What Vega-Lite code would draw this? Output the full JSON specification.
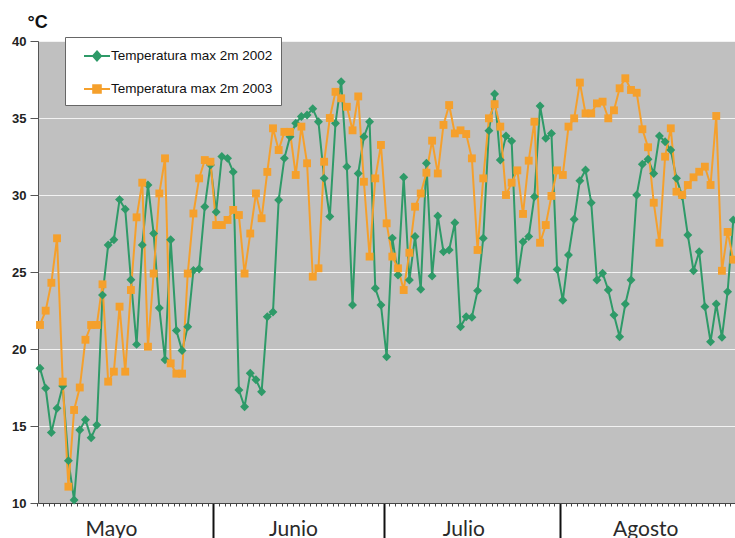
{
  "$schema": "https://vega.github.io/schema/vega-lite/v6.json",
  "width": 697,
  "height": 462,
  "autosize": {"type": "none"},
  "padding": {"left": 38, "top": 41, "right": 0, "bottom": 35},
  "background": "#ffffff",
  "config": {
    "view": {"fill": "#C0C0C0", "stroke": null},
    "font": "Liberation Sans"
  },
  "data": {
    "values": [
      {"dia": 1, "2002": 18.75, "2003": 21.56},
      {"dia": 2, "2002": 17.45, "2003": 22.49},
      {"dia": 3, "2002": 14.57, "2003": 24.3},
      {"dia": 4, "2002": 16.15, "2003": 27.19},
      {"dia": 5, "2002": 17.6, "2003": 17.88},
      {"dia": 6, "2002": 12.75, "2003": 11.06},
      {"dia": 7, "2002": 10.2, "2003": 16.04},
      {"dia": 8, "2002": 14.74, "2003": 17.5},
      {"dia": 9, "2002": 15.4, "2003": 20.6},
      {"dia": 10, "2002": 14.24, "2003": 21.56},
      {"dia": 11, "2002": 15.06, "2003": 21.56},
      {"dia": 12, "2002": 23.5, "2003": 24.2},
      {"dia": 13, "2002": 26.75, "2003": 17.88},
      {"dia": 14, "2002": 27.1, "2003": 18.53},
      {"dia": 15, "2002": 29.7, "2003": 22.75},
      {"dia": 16, "2002": 29.07, "2003": 18.53},
      {"dia": 17, "2002": 24.5, "2003": 23.83},
      {"dia": 18, "2002": 20.3, "2003": 28.55},
      {"dia": 19, "2002": 26.75, "2003": 30.8},
      {"dia": 20, "2002": 30.65, "2003": 20.15},
      {"dia": 21, "2002": 27.5, "2003": 24.9},
      {"dia": 22, "2002": 22.66, "2003": 30.1},
      {"dia": 23, "2002": 19.3, "2003": 32.38},
      {"dia": 24, "2002": 27.1, "2003": 19.07},
      {"dia": 25, "2002": 21.2, "2003": 18.4},
      {"dia": 26, "2002": 19.9, "2003": 18.4},
      {"dia": 27, "2002": 21.45, "2003": 24.9},
      {"dia": 28, "2002": 25.1, "2003": 28.8},
      {"dia": 29, "2002": 25.2, "2003": 31.08},
      {"dia": 30, "2002": 29.24, "2003": 32.27},
      {"dia": 31, "2002": 31.95, "2003": 32.16},
      {"dia": 32, "2002": 28.9, "2003": 28.05},
      {"dia": 33, "2002": 32.5, "2003": 28.05},
      {"dia": 34, "2002": 32.38, "2003": 28.38},
      {"dia": 35, "2002": 31.5, "2003": 29.03},
      {"dia": 36, "2002": 17.34, "2003": 28.7},
      {"dia": 37, "2002": 16.25, "2003": 24.9},
      {"dia": 38, "2002": 18.42, "2003": 27.5},
      {"dia": 39, "2002": 18.0, "2003": 30.1},
      {"dia": 40, "2002": 17.23, "2003": 28.49},
      {"dia": 41, "2002": 22.1, "2003": 31.5},
      {"dia": 42, "2002": 22.4, "2003": 34.33},
      {"dia": 43, "2002": 29.67, "2003": 32.92},
      {"dia": 44, "2002": 32.38, "2003": 34.1},
      {"dia": 45, "2002": 33.79, "2003": 34.1},
      {"dia": 46, "2002": 34.66, "2003": 31.3},
      {"dia": 47, "2002": 35.1, "2003": 34.44},
      {"dia": 48, "2002": 35.2, "2003": 32.06},
      {"dia": 49, "2002": 35.6, "2003": 24.7},
      {"dia": 50, "2002": 34.76, "2003": 25.24},
      {"dia": 51, "2002": 31.08, "2003": 32.16},
      {"dia": 52, "2002": 28.6, "2003": 35.0},
      {"dia": 53, "2002": 34.66, "2003": 36.7},
      {"dia": 54, "2002": 37.36, "2003": 36.28},
      {"dia": 55, "2002": 31.84, "2003": 35.73},
      {"dia": 56, "2002": 22.86, "2003": 34.2},
      {"dia": 57, "2002": 31.4, "2003": 36.4},
      {"dia": 58, "2002": 33.79, "2003": 30.86},
      {"dia": 59, "2002": 34.76, "2003": 26.0},
      {"dia": 60, "2002": 23.94, "2003": 31.08},
      {"dia": 61, "2002": 22.86, "2003": 33.25},
      {"dia": 62, "2002": 19.5, "2003": 28.16},
      {"dia": 63, "2002": 27.2, "2003": 26.0},
      {"dia": 64, "2002": 24.8, "2003": 25.24},
      {"dia": 65, "2002": 31.15, "2003": 23.83},
      {"dia": 66, "2002": 24.48, "2003": 26.25},
      {"dia": 67, "2002": 27.3, "2003": 29.24},
      {"dia": 68, "2002": 23.88, "2003": 30.1},
      {"dia": 69, "2002": 32.06, "2003": 31.45},
      {"dia": 70, "2002": 24.74, "2003": 33.53},
      {"dia": 71, "2002": 28.64, "2003": 31.4},
      {"dia": 72, "2002": 26.32, "2003": 34.55},
      {"dia": 73, "2002": 26.43, "2003": 35.84},
      {"dia": 74, "2002": 28.2, "2003": 34.0},
      {"dia": 75, "2002": 21.45, "2003": 34.2},
      {"dia": 76, "2002": 22.1, "2003": 33.96},
      {"dia": 77, "2002": 22.06, "2003": 32.38},
      {"dia": 78, "2002": 23.79, "2003": 26.43},
      {"dia": 79, "2002": 27.19, "2003": 31.08},
      {"dia": 80, "2002": 34.18, "2003": 34.98},
      {"dia": 81, "2002": 36.56, "2003": 35.9},
      {"dia": 82, "2002": 32.27, "2003": 34.44},
      {"dia": 83, "2002": 33.83, "2003": 30.0},
      {"dia": 84, "2002": 33.5, "2003": 30.8},
      {"dia": 85, "2002": 24.48, "2003": 31.6},
      {"dia": 86, "2002": 26.97, "2003": 28.77},
      {"dia": 87, "2002": 27.3, "2003": 32.23},
      {"dia": 88, "2002": 29.89, "2003": 34.76},
      {"dia": 89, "2002": 35.78, "2003": 26.9},
      {"dia": 90, "2002": 33.68, "2003": 28.05},
      {"dia": 91, "2002": 34.0, "2003": 29.94},
      {"dia": 92, "2002": 25.17, "2003": 31.6},
      {"dia": 93, "2002": 23.16, "2003": 31.3},
      {"dia": 94, "2002": 26.1, "2003": 34.44},
      {"dia": 95, "2002": 28.42, "2003": 34.98},
      {"dia": 96, "2002": 30.93, "2003": 37.3},
      {"dia": 97, "2002": 31.62, "2003": 35.3},
      {"dia": 98, "2002": 29.5, "2003": 35.3},
      {"dia": 99, "2002": 24.48, "2003": 35.95},
      {"dia": 100, "2002": 24.92, "2003": 36.06},
      {"dia": 101, "2002": 23.83, "2003": 34.98},
      {"dia": 102, "2002": 22.2, "2003": 35.5},
      {"dia": 103, "2002": 20.8, "2003": 36.93},
      {"dia": 104, "2002": 22.92, "2003": 37.58},
      {"dia": 105, "2002": 24.48, "2003": 36.82},
      {"dia": 106, "2002": 30.0, "2003": 36.64},
      {"dia": 107, "2002": 32.0, "2003": 34.27},
      {"dia": 108, "2002": 32.32, "2003": 33.1},
      {"dia": 109, "2002": 31.4, "2003": 29.5},
      {"dia": 110, "2002": 33.83, "2003": 26.9},
      {"dia": 111, "2002": 33.46, "2003": 32.49},
      {"dia": 112, "2002": 32.92, "2003": 34.33},
      {"dia": 113, "2002": 31.08, "2003": 30.21},
      {"dia": 114, "2002": 29.94, "2003": 30.0},
      {"dia": 115, "2002": 27.4, "2003": 30.65},
      {"dia": 116, "2002": 25.08, "2003": 31.15},
      {"dia": 117, "2002": 26.32, "2003": 31.51},
      {"dia": 118, "2002": 22.75, "2003": 31.84},
      {"dia": 119, "2002": 20.47, "2003": 30.65},
      {"dia": 120, "2002": 22.92, "2003": 35.13},
      {"dia": 121, "2002": 20.76, "2003": 25.08},
      {"dia": 122, "2002": 23.72, "2003": 27.6},
      {"dia": 123, "2002": 28.38, "2003": 25.8}
    ]
  },
  "transform": [
    {"fold": ["2002", "2003"], "as": ["anio", "t"]}
  ],
  "encoding": {
    "x": {
      "field": "dia",
      "type": "quantitative",
      "scale": {"domain": [0.65, 123.3], "nice": false, "zero": false},
      "axis": {
        "title": null,
        "grid": false,
        "tickCount": 125,
        "tickMinStep": 1,
        "tickOffset": -2.84,
        "tickSize": {"condition": {"test": "datum.value == 32 || datum.value == 62 || datum.value == 93", "value": 36}, "value": 3},
        "tickWidth": {"condition": {"test": "datum.value == 32 || datum.value == 62 || datum.value == 93", "value": 2}, "value": 1},
        "tickColor": {"condition": {"test": "datum.value == 32 || datum.value == 62 || datum.value == 93", "value": "#111111"}, "value": "#444444"},
        "labelExpr": "datum.value == 14 ? 'Mayo' : datum.value == 46 ? 'Junio' : datum.value == 76 ? 'Julio' : datum.value == 108 ? 'Agosto' : ''",
        "labelOverlap": false,
        "labelFlush": false,
        "labelBound": false,
        "labelFont": "Lato",
        "labelFontSize": 21,
        "labelColor": "#2a2a2a",
        "labelBaseline": "top",
        "labelPadding": 12,
        "domainColor": "#444444"
      }
    },
    "y": {
      "field": "t",
      "type": "quantitative",
      "scale": {"domain": [10, 40], "nice": false, "zero": false},
      "axis": {
        "values": [10, 15, 20, 25, 30, 35, 40],
        "title": "°C",
        "titleAngle": 0,
        "titleAlign": "left",
        "titleBaseline": "alphabetic",
        "titleX": -11,
        "titleY": -14,
        "titleFont": "Liberation Sans",
        "titleFontSize": 18,
        "titleFontWeight": "bold",
        "titleColor": "#111111",
        "labelFont": "Liberation Sans",
        "labelFontSize": 13,
        "labelFontWeight": "bold",
        "labelColor": "#222222",
        "labelPadding": 4,
        "tickSize": 8,
        "tickColor": "#555555",
        "domainColor": "#555555",
        "gridColor": "#F2F2F2",
        "gridWidth": 1
      }
    },
    "color": {
      "field": "anio",
      "type": "nominal",
      "scale": {"domain": ["2002", "2003"], "range": ["#2E9A68", "#F5A02C"]}
    }
  },
  "layer": [
    {
      "mark": {"type": "line", "strokeWidth": 2},
      "encoding": {
        "color": {
          "field": "anio",
          "type": "nominal",
          "scale": {"domain": ["2002", "2003"], "range": ["#2E9A68", "#F5A02C"]},
          "legend": {
            "orient": "none",
            "legendX": 27,
            "legendY": -4,
            "title": null,
            "labelExpr": "'Temperatura max 2m ' + datum.label",
            "labelLimit": 0,
            "fillColor": "#ffffff",
            "strokeColor": "#666666",
            "padding": 8,
            "rowPadding": 13,
            "symbolSize": 400,
            "symbolOffset": 13,
            "symbolStrokeWidth": 2,
            "labelFont": "Liberation Sans",
            "labelFontSize": 13.5,
            "labelColor": "#111111",
            "labelOffset": 3,
            "encode": {
              "symbols": {
                "update": {
                  "shape": {"signal": "datum.value == '2002' ? 'M-1.3,0L1.3,0M0,-0.45L0.4,0L0,0.45L-0.4,0Z' : 'M-1.3,0L1.3,0M-0.38,-0.38L0.38,-0.38L0.38,0.38L-0.38,0.38Z'"},
                  "fill": {"scale": "color", "field": "value"},
                  "stroke": {"scale": "color", "field": "value"},
                  "strokeWidth": {"value": 2},
                  "opacity": {"value": 1}
                }
              }
            }
          }
        }
      }
    },
    {
      "transform": [{"filter": "datum.anio == '2002'"}],
      "mark": {"type": "point", "filled": true, "opacity": 1, "size": 80, "shape": "diamond"}
    },
    {
      "transform": [{"filter": "datum.anio == '2003'"}],
      "mark": {"type": "point", "filled": true, "opacity": 1, "size": 62, "shape": "square"}
    }
  ]
}
